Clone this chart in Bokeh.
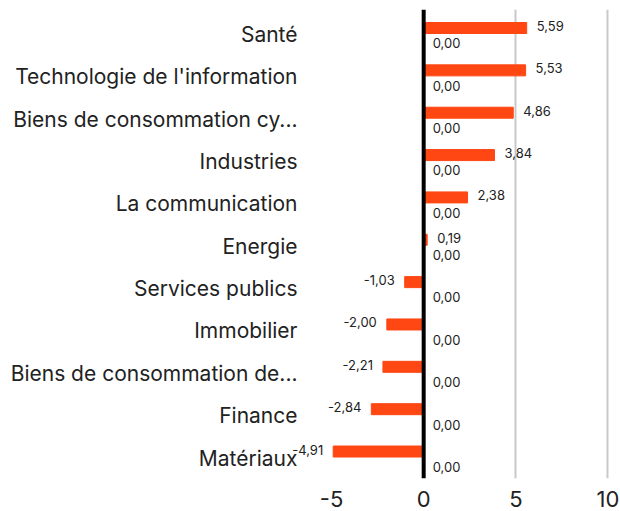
from bokeh.plotting import figure
from bokeh.models import ColumnDataSource, FixedTicker, Span, Range1d
from bokeh.core.properties import value
from bokeh.embed import file_html
from bokeh.resources import INLINE

categories = ["Santé", "Technologie de l'information", "Biens de consommation cy...",
              "Industries", "La communication", "Energie", "Services publics",
              "Immobilier", "Biens de consommation de...", "Finance", "Matériaux"]
values = [5.59, 5.53, 4.86, 3.84, 2.38, 0.19, -1.03, -2.00, -2.21, -2.84, -4.91]
second = [0.00] * len(categories)
x_ticks = [-5, 0, 5, 10]

FONT = "Inter"
ORANGE = "#FF4713"
n = len(categories)
ypos = [n - 1 - i for i in range(n)]

def fmt(v):
    return f"{v:.2f}".replace(".", ",")

src = ColumnDataSource(dict(
    y=ypos,
    yb=[y + 0.153 for y in ypos],
    yl=[y + 0.20 for y in ypos],
    yz=[y - 0.21 for y in ypos],
    v=values,
    z=second,
    vlab=[fmt(v) for v in values],
    zlab=[fmt(v) for v in second],
    align=["left" if v >= 0 else "right" for v in values],
    xoff=[10 if v >= 0 else -10 for v in values],
))

p = figure(width=620, height=511, output_backend="svg", toolbar_location=None,
           x_range=Range1d(-7.66, 10.3), y_range=Range1d(-0.484, 10.59),
           min_border_left=282, min_border_right=7, min_border_top=9, min_border_bottom=33)

p.hbar(y="yb", left=0, right="v", height=0.26, color=ORANGE, source=src)
p.hbar(y="yz", left=0, right="z", height=0.26, color="#555555", source=src)

p.add_layout(Span(location=0, dimension="height", line_color="black", line_width=4))

p.text(x="v", y="yl", text="vlab", text_align="align", x_offset="xoff",
       text_baseline="middle", text_font=value(FONT), text_font_size="13px",
       text_color="#222222", source=src)
p.text(x="z", y="yz", text="zlab", text_align="left", x_offset=9,
       text_baseline="middle", text_font=value(FONT), text_font_size="13px",
       text_color="#222222", source=src)

p.outline_line_color = None
p.background_fill_color = "white"
p.border_fill_color = "white"
p.ygrid.grid_line_color = None
p.xgrid.ticker = FixedTicker(ticks=[5, 10])
p.xgrid.grid_line_color = "#c8c8c8"
p.xgrid.grid_line_width = 2

p.xaxis.ticker = FixedTicker(ticks=x_ticks)
p.xaxis.major_label_overrides = {t: str(t) for t in x_ticks}
p.xaxis.axis_line_color = None
p.xaxis.major_tick_line_color = None
p.xaxis.minor_tick_line_color = None
p.xaxis.major_label_text_font = FONT
p.xaxis.major_label_text_font_size = "22px"
p.xaxis.major_label_text_color = "#222222"
p.xaxis.major_label_standoff = 6

p.yaxis.ticker = FixedTicker(ticks=ypos)
p.yaxis.major_label_overrides = {y: c for y, c in zip(ypos, categories)}
p.yaxis.axis_line_color = None
p.yaxis.major_tick_line_color = None
p.yaxis.minor_tick_line_color = None
p.yaxis.major_label_text_font = FONT
p.yaxis.major_label_text_font_size = "21px"
p.yaxis.major_label_text_color = "#222222"
p.yaxis.major_label_standoff = -21

open("out.html", "w").write(file_html(p, INLINE))
